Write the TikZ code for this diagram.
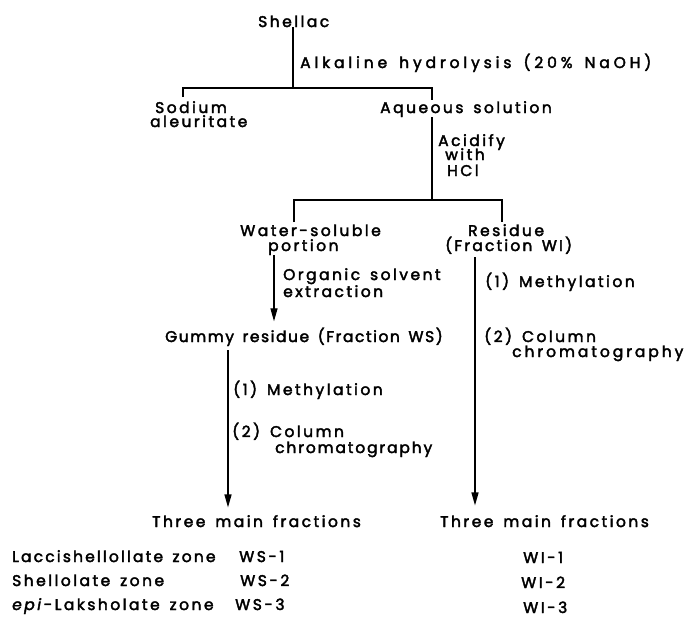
\documentclass[tikz,border=0pt]{standalone}
\usepackage{fontspec}
\setmainfont{Poppins}[LetterSpace=16, WordSpace=1.5, FakeBold=2.5]
\usetikzlibrary{arrows.meta}
\begin{document}
\begin{tikzpicture}[x=1pt,y=-1pt,
  txt/.style={inner sep=0pt, anchor=base west, font=\fontsize{15.5}{16}\selectfont},
  ls/.style={font=\fontsize{15.5}{16}\selectfont\addfontfeature{LetterSpace=#1}},
  ln/.style={line width=1.3pt},
  arr/.style={ln, -{Triangle[length=13pt,width=7pt]}}]
\useasboundingbox[fill=white] (0,0) rectangle (699,622);
% text
\node[txt] (shellac) at (258,27) {Shellac};
\node[txt, ls=25] (alk) at (300,68) {Alkaline hydrolysis (20\% NaOH)};
\node[txt] (sodium) at (155,113) {Sodium};
\node[txt] (aleur) at (150,127) {aleuritate};
\node[txt] (aqueous) at (380,113) {Aqueous solution};
\node[txt] (acid) at (438,146) {Acidify};
\node[txt] (with) at (445,160) {with};
\node[txt] (hcl) at (447,176) {HCl};
\node[txt] (water) at (240,236) {Water-soluble};
\node[txt] (portion) at (268,251) {portion};
\node[txt] (residue) at (468,236) {Residue};
\node[txt, ls=14] (fracwi) at (445,251) {(Fraction WI)};
\node[txt] (org) at (283,280) {Organic solvent};
\node[txt] (extr) at (283,297) {extraction};
\node[txt, ls=10] (gummy) at (165,342) {Gummy residue (Fraction WS)};
\node[txt] (meR) at (485,287) {(1) Methylation};
\node[txt] (colR) at (484,342) {(2) Column};
\node[txt, ls=19] (chrR) at (512,357) {chromatography};
\node[txt] (meL) at (233,395) {(1) Methylation};
\node[txt] (colL) at (232,437) {(2) Column};
\node[txt, ls=12] (chrL) at (275,453) {chromatography};
\node[txt] (tmfL) at (152,527) {Three main fractions};
\node[txt] (tmfR) at (440,527) {Three main fractions};
\node[txt, ls=14] (z1) at (12,562) {Laccishellollate zone};
\node[txt] (ws1) at (239,562) {WS-1};
\node[txt] (z2) at (12,586) {Shellolate zone};
\node[txt] (ws2) at (240,586) {WS-2};
\node[txt] (z3) at (12,610) {\textit{epi}-Laksholate zone};
\node[txt] (ws3) at (235,610) {WS-3};
\node[txt] (wi1) at (523,563) {WI-1};
\node[txt] (wi2) at (521,588) {WI-2};
\node[txt] (wi3) at (523,613) {WI-3};
% connectors
\coordinate (j1) at (293,88);
\coordinate (d1) at (183,97);
\coordinate (d2) at (432,100);
\draw[ln] (j1 |- shellac.south) -- (j1);
\draw[ln] (d1) |- (j1) -| (d2);
\coordinate (j2) at (432,200);
\coordinate (d3) at (294,222);
\coordinate (d4) at (502,222);
\draw[ln] (aqueous.south -| j2) -- (j2);
\draw[ln] (d3) |- (j2) -| (d4);
\coordinate (a1) at (274,255);
\draw[arr, shorten >=6pt] (a1) -- (a1 |- gummy.north);
\coordinate (a3) at (228,350);
\draw[arr, shorten >=7.5pt] (a3) -- (a3 |- tmfL.north);
\coordinate (a2) at (475,257);
\draw[arr, shorten >=9.5pt] (a2) -- (a2 |- tmfR.north);
\end{tikzpicture}
\end{document}
